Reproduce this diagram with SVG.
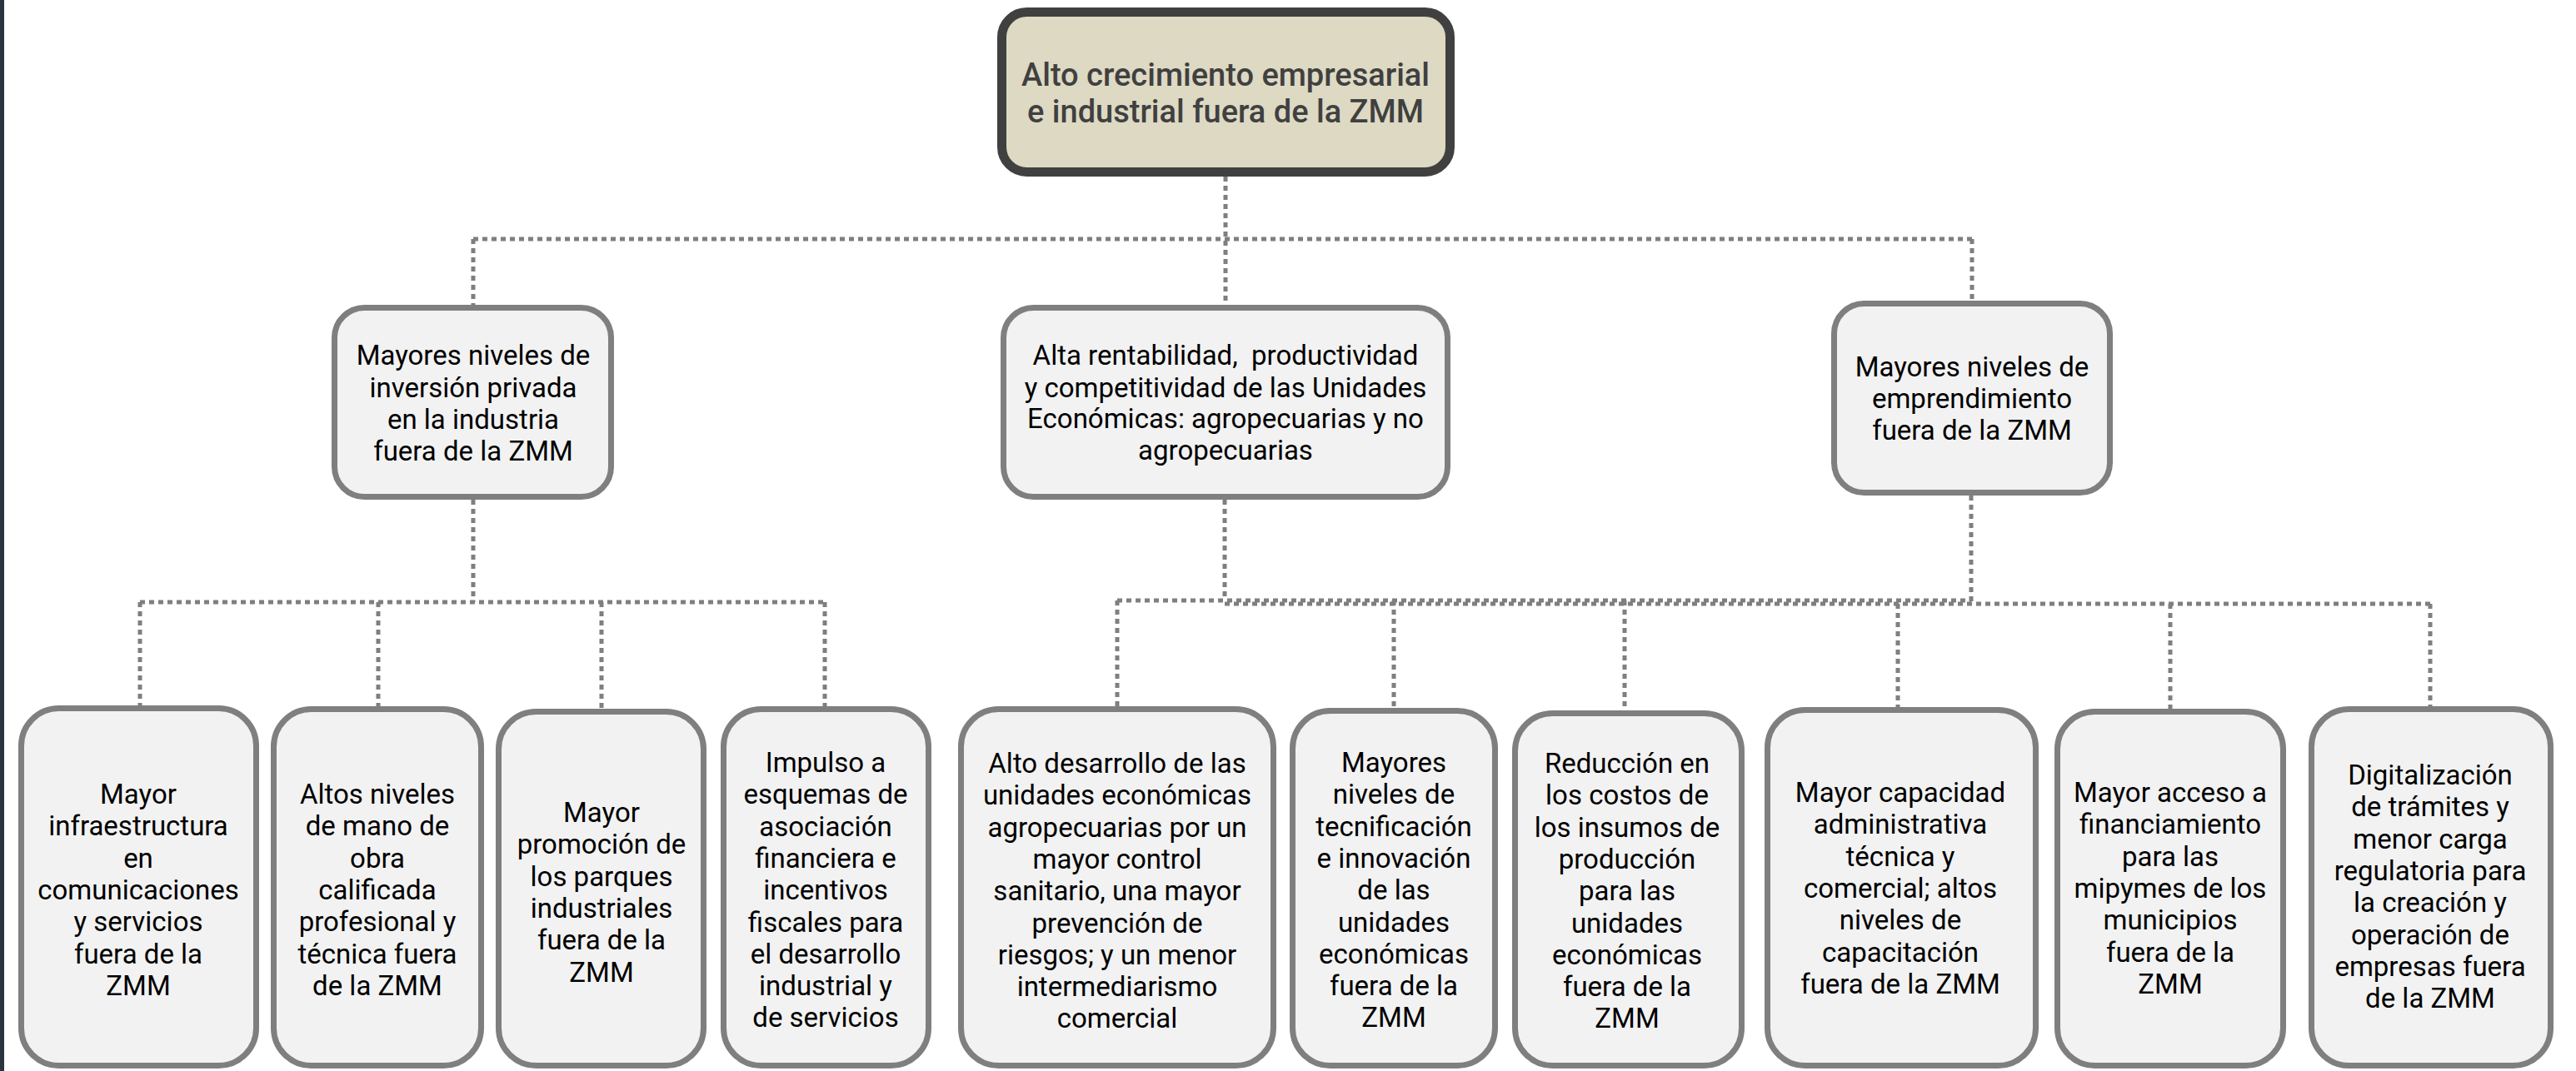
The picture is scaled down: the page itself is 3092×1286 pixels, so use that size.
<svg xmlns="http://www.w3.org/2000/svg" width="3092" height="1286" viewBox="0 0 3092 1286">
<style>
.root{fill:#DDD9C3;stroke:#404040;stroke-width:11}
.box{fill:#F2F2F2;stroke:#7F7F7F;stroke-width:7}
.conn{fill:none;stroke:#7F7F7F;stroke-width:5;stroke-dasharray:6 5}
text{font-family:Roboto,"Liberation Sans",sans-serif;text-anchor:middle}
.t0{font-size:38px;font-weight:500;fill:#404040}
.t{font-size:33px;fill:#000}
</style>
<rect x="0" y="0" width="3092" height="1286" fill="#FFFFFF"/>
<rect x="0" y="0" width="5" height="1286" fill="#2B3440"/>
<g id="connectors">
<path class="conn" d="M1471 212 V366"/>
<path class="conn" d="M568 287 H2367"/>
<path class="conn" d="M568 287 V366"/>
<path class="conn" d="M2367 287 V361"/>
<path class="conn" d="M568 600 V723"/>
<path class="conn" d="M168 723 H990"/>
<path class="conn" d="M168 723 V847"/>
<path class="conn" d="M454 723 V848"/>
<path class="conn" d="M722 723 V851"/>
<path class="conn" d="M990 723 V848"/>
<path class="conn" d="M1470 600 V721"/>
<path class="conn" d="M1341 721 H2366"/>
<path class="conn" d="M1341 721 V848"/>
<path class="conn" d="M1673 721 V850"/>
<path class="conn" d="M1950 721 V853"/>
<path class="conn" d="M2366 595 V725"/>
<path class="conn" d="M1470 725 H2917"/>
<path class="conn" d="M2278 725 V849"/>
<path class="conn" d="M2605 725 V851"/>
<path class="conn" d="M2917 725 V848"/>
</g>
<g id="n0">
<rect class="root" x="1202.5" y="14.5" width="538" height="192" rx="30"/>
<text class="t0"><tspan x="1471" y="103">Alto crecimiento empresarial</tspan><tspan x="1471" y="147">e industrial fuera de la ZMM</tspan></text>
</g>
<g id="n1">
<rect class="box" x="401.5" y="369.5" width="332" height="227" rx="36"/>
<text class="t"><tspan x="568" y="438">Mayores niveles de</tspan><tspan x="568" y="477">inversión privada</tspan><tspan x="568" y="515">en la industria</tspan><tspan x="568" y="553">fuera de la ZMM</tspan></text>
</g>
<g id="n2">
<rect class="box" x="1204.5" y="369.5" width="533" height="227" rx="36"/>
<text class="t" xml:space="preserve"><tspan x="1471" y="438">Alta rentabilidad,  productividad</tspan><tspan x="1471" y="477">y competitividad de las Unidades</tspan><tspan x="1471" y="514">Económicas: agropecuarias y no</tspan><tspan x="1471" y="552">agropecuarias</tspan></text>
</g>
<g id="n3">
<rect class="box" x="2201.5" y="364.5" width="331" height="227" rx="36"/>
<text class="t"><tspan x="2367" y="452">Mayores niveles de</tspan><tspan x="2367" y="490">emprendimiento</tspan><tspan x="2367" y="528">fuera de la ZMM</tspan></text>
</g>
<g id="n4">
<rect class="box" x="25.5" y="850.5" width="282" height="429" rx="45"/>
<text class="t"><tspan x="166" y="965">Mayor</tspan><tspan x="166" dy="38.3">infraestructura</tspan><tspan x="166" dy="38.3">en</tspan><tspan x="166" dy="38.3">comunicaciones</tspan><tspan x="166" dy="38.3">y servicios</tspan><tspan x="166" dy="38.3">fuera de la</tspan><tspan x="166" dy="38.3">ZMM</tspan></text>
</g>
<g id="n5">
<rect class="box" x="328.5" y="851.5" width="249" height="428" rx="45"/>
<text class="t"><tspan x="453" y="965">Altos niveles</tspan><tspan x="453" dy="38.3">de mano de</tspan><tspan x="453" dy="38.3">obra</tspan><tspan x="453" dy="38.3">calificada</tspan><tspan x="453" dy="38.3">profesional y</tspan><tspan x="453" dy="38.3">técnica fuera</tspan><tspan x="453" dy="38.3">de la ZMM</tspan></text>
</g>
<g id="n6">
<rect class="box" x="598.5" y="854.5" width="246" height="425" rx="45"/>
<text class="t"><tspan x="722" y="987">Mayor</tspan><tspan x="722" dy="38.3">promoción de</tspan><tspan x="722" dy="38.3">los parques</tspan><tspan x="722" dy="38.3">industriales</tspan><tspan x="722" dy="38.3">fuera de la</tspan><tspan x="722" dy="38.3">ZMM</tspan></text>
</g>
<g id="n7">
<rect class="box" x="868.5" y="851.5" width="246" height="428" rx="45"/>
<text class="t"><tspan x="991" y="927">Impulso a</tspan><tspan x="991" dy="38.3">esquemas de</tspan><tspan x="991" dy="38.3">asociación</tspan><tspan x="991" dy="38.3">financiera e</tspan><tspan x="991" dy="38.3">incentivos</tspan><tspan x="991" dy="38.3">fiscales para</tspan><tspan x="991" dy="38.3">el desarrollo</tspan><tspan x="991" dy="38.3">industrial y</tspan><tspan x="991" dy="38.3">de servicios</tspan></text>
</g>
<g id="n8">
<rect class="box" x="1153.5" y="851.5" width="375" height="428" rx="45"/>
<text class="t"><tspan x="1341" y="928">Alto desarrollo de las</tspan><tspan x="1341" dy="38.3">unidades económicas</tspan><tspan x="1341" dy="38.3">agropecuarias por un</tspan><tspan x="1341" dy="38.3">mayor control</tspan><tspan x="1341" dy="38.3">sanitario, una mayor</tspan><tspan x="1341" dy="38.3">prevención de</tspan><tspan x="1341" dy="38.3">riesgos; y un menor</tspan><tspan x="1341" dy="38.3">intermediarismo</tspan><tspan x="1341" dy="38.3">comercial</tspan></text>
</g>
<g id="n9">
<rect class="box" x="1551.5" y="853.5" width="243" height="426" rx="45"/>
<text class="t"><tspan x="1673" y="927">Mayores</tspan><tspan x="1673" dy="38.3">niveles de</tspan><tspan x="1673" dy="38.3">tecnificación</tspan><tspan x="1673" dy="38.3">e innovación</tspan><tspan x="1673" dy="38.3">de las</tspan><tspan x="1673" dy="38.3">unidades</tspan><tspan x="1673" dy="38.3">económicas</tspan><tspan x="1673" dy="38.3">fuera de la</tspan><tspan x="1673" dy="38.3">ZMM</tspan></text>
</g>
<g id="n10">
<rect class="box" x="1818.5" y="856.5" width="272" height="423" rx="45"/>
<text class="t"><tspan x="1953" y="928">Reducción en</tspan><tspan x="1953" dy="38.3">los costos de</tspan><tspan x="1953" dy="38.3">los insumos de</tspan><tspan x="1953" dy="38.3">producción</tspan><tspan x="1953" dy="38.3">para las</tspan><tspan x="1953" dy="38.3">unidades</tspan><tspan x="1953" dy="38.3">económicas</tspan><tspan x="1953" dy="38.3">fuera de la</tspan><tspan x="1953" dy="38.3">ZMM</tspan></text>
</g>
<g id="n11">
<rect class="box" x="2121.5" y="852.5" width="322" height="427" rx="45"/>
<text class="t"><tspan x="2281" y="963">Mayor capacidad</tspan><tspan x="2281" dy="38.3">administrativa</tspan><tspan x="2281" dy="38.3">técnica y</tspan><tspan x="2281" dy="38.3">comercial; altos</tspan><tspan x="2281" dy="38.3">niveles de</tspan><tspan x="2281" dy="38.3">capacitación</tspan><tspan x="2281" dy="38.3">fuera de la ZMM</tspan></text>
</g>
<g id="n12">
<rect class="box" x="2469.5" y="854.5" width="271" height="425" rx="45"/>
<text class="t"><tspan x="2605" y="963">Mayor acceso a</tspan><tspan x="2605" dy="38.3">financiamiento</tspan><tspan x="2605" dy="38.3">para las</tspan><tspan x="2605" dy="38.3">mipymes de los</tspan><tspan x="2605" dy="38.3">municipios</tspan><tspan x="2605" dy="38.3">fuera de la</tspan><tspan x="2605" dy="38.3">ZMM</tspan></text>
</g>
<g id="n13">
<rect class="box" x="2774.5" y="851.5" width="287" height="428" rx="45"/>
<text class="t"><tspan x="2917" y="942">Digitalización</tspan><tspan x="2917" dy="38.3">de trámites y</tspan><tspan x="2917" dy="38.3">menor carga</tspan><tspan x="2917" dy="38.3">regulatoria para</tspan><tspan x="2917" dy="38.3">la creación y</tspan><tspan x="2917" dy="38.3">operación de</tspan><tspan x="2917" dy="38.3">empresas fuera</tspan><tspan x="2917" dy="38.3">de la ZMM</tspan></text>
</g>
</svg>
